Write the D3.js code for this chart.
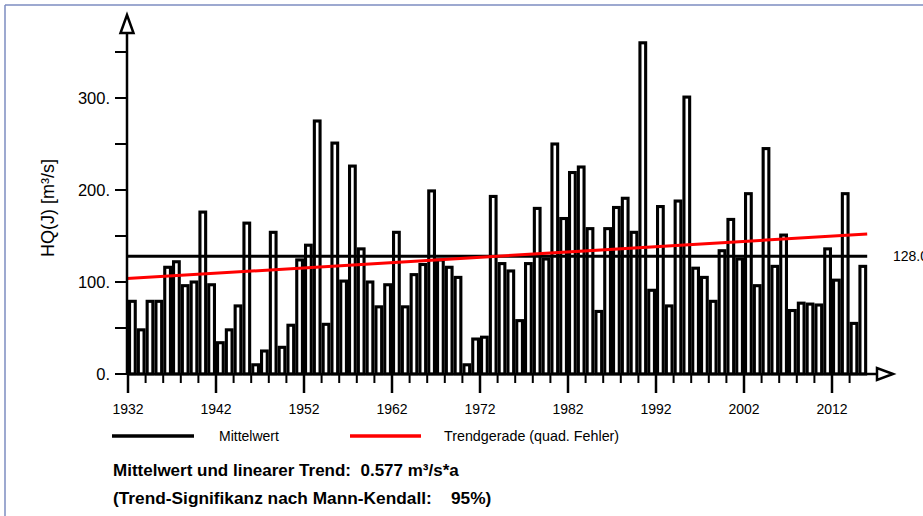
<!DOCTYPE html>
<html>
<head>
<meta charset="utf-8">
<script src="https://cdn.jsdelivr.net/npm/d3@7"></script>
<style>
  body { margin: 0; background: #fff; }
  svg { display: block; font-family: "Liberation Sans", Arial, sans-serif; }
  text { white-space: pre; }
</style>
</head>
<body>
<div id="chart"></div>
<script>
// annual peak discharge HQ(J), m³/s
const years = d3.range(1932, 2016);
const hq = [
  79, 48, 79, 79, 116, 122, 96, 100, 176, 97,
  34, 48, 74, 164, 10, 25, 154, 29, 53, 124,
  140, 275, 54, 251, 101, 226, 136, 100, 73, 97,
  154, 73, 108, 119, 199, 124, 116, 105, 10, 38,
  40, 193, 120, 112, 58, 120, 180, 125, 250, 169,
  219, 225, 158, 68, 158, 181, 191, 154, 360, 91,
  182, 74, 188, 301, 115, 105, 79, 134, 168, 125,
  196, 96, 245, 117, 151, 69, 77, 76, 75, 136,
  102, 196, 55, 117
];
const meanValue = 128.0;
const trendSlope = 0.577;
const yTickValues = [0, 100, 200, 300];
const xTickYears = [1932, 1942, 1952, 1962, 1972, 1982, 1992, 2002, 2012];

const W = 923, H = 516;
const svg = d3.select('#chart')
  .append('svg')
    .attr('width', W)
    .attr('height', H);

// frame lines (top and left)
svg.append('line')
  .attr('x1', 5).attr('y1', 5).attr('x2', W).attr('y2', 5)
  .attr('stroke', '#7d8cc0').attr('stroke-width', 1.5);
svg.append('line')
  .attr('x1', 5).attr('y1', 5).attr('x2', 5).attr('y2', H)
  .attr('stroke', '#7d8cc0').attr('stroke-width', 1.5);

const x = d3.scaleLinear().domain([1932, 2012]).range([128, 832]);
const y = d3.scaleLinear().domain([0, 300]).range([374, 98]);
const step = x(1933) - x(1932);
const x0 = 127, y0 = y(0);

// bars
const sw = 3.1;
svg.append('g')
  .selectAll('rect')
  .data(years.map((yr, i) => ({year: yr, v: hq[i]})))
  .join('rect')
    .attr('x', d => x(d.year) + sw / 2)
    .attr('y', d => y(d.v))
    .attr('width', step - sw)
    .attr('height', d => y0 - y(d.v))
    .attr('fill', '#fff')
    .attr('stroke', '#000')
    .attr('stroke-width', sw);

// mean line
const xEnd = x(2016);
svg.append('line')
  .attr('x1', x0).attr('x2', xEnd)
  .attr('y1', y(meanValue)).attr('y2', y(meanValue))
  .attr('stroke', '#000').attr('stroke-width', 3);
svg.append('text')
  .attr('x', 893).attr('y', y(meanValue) + 5)
  .attr('font-size', 14)
  .text(meanValue.toFixed(1));

// trend line through mean at the centre of the period
const midYear = 1974;
const trend = yr => meanValue + trendSlope * (yr - midYear);
svg.append('line')
  .attr('x1', x0).attr('y1', y(trend(1932)))
  .attr('x2', xEnd).attr('y2', y(trend(2016)))
  .attr('stroke', '#ff0000').attr('stroke-width', 3);

// y axis
svg.append('line')
  .attr('x1', x0).attr('x2', x0).attr('y1', 33).attr('y2', y0 + 1)
  .attr('stroke', '#000').attr('stroke-width', 2.5);
svg.append('path')
  .attr('d', `M${x0},15 L${x0 - 6.5},33 L${x0 + 6.5},33 Z`)
  .attr('fill', '#fff').attr('stroke', '#000').attr('stroke-width', 2.5);
svg.append('g')
  .selectAll('line')
  .data(d3.range(0, 351, 50))
  .join('line')
    .attr('x1', 115).attr('x2', x0)
    .attr('y1', d => y(d)).attr('y2', d => y(d))
    .attr('stroke', '#000').attr('stroke-width', 2);
svg.append('g')
  .selectAll('text')
  .data(yTickValues)
  .join('text')
    .attr('x', 110).attr('y', d => y(d) + 6)
    .attr('text-anchor', 'end')
    .attr('font-size', 16.5)
    .text(d => d + '.');
svg.append('text')
  .attr('transform', 'translate(54,208) rotate(-90)')
  .attr('text-anchor', 'middle')
  .attr('font-size', 18)
  .text('HQ(J) [m³/s]');

// x axis
svg.append('line')
  .attr('x1', x0).attr('x2', 877).attr('y1', y0).attr('y2', y0)
  .attr('stroke', '#000').attr('stroke-width', 2.5);
svg.append('path')
  .attr('d', `M893,${y0} L877,${y0 - 6} L877,${y0 + 6} Z`)
  .attr('fill', '#fff').attr('stroke', '#000').attr('stroke-width', 2.5);
svg.append('g')
  .selectAll('line')
  .data(d3.range(1932, 2016, 2))
  .join('line')
    .attr('x1', d => x(d)).attr('x2', d => x(d))
    .attr('y1', y0)
    .attr('y2', d => (d - 1932) % 10 === 0 ? y0 + 19 : y0 + 9)
    .attr('stroke', '#000')
    .attr('stroke-width', d => (d - 1932) % 10 === 0 ? 2.5 : 2);
svg.append('g')
  .selectAll('text')
  .data(xTickYears)
  .join('text')
    .attr('x', d => x(d)).attr('y', 414)
    .attr('text-anchor', 'middle')
    .attr('font-size', 14)
    .text(d => d);

// legend
svg.append('line')
  .attr('x1', 112).attr('x2', 194).attr('y1', 436).attr('y2', 436)
  .attr('stroke', '#000').attr('stroke-width', 3.5);
svg.append('text')
  .attr('x', 219).attr('y', 441)
  .attr('font-size', 14)
  .text('Mittelwert');
svg.append('line')
  .attr('x1', 350).attr('x2', 421).attr('y1', 436).attr('y2', 436)
  .attr('stroke', '#ff0000').attr('stroke-width', 3.5);
svg.append('text')
  .attr('x', 444).attr('y', 441)
  .attr('font-size', 14.3)
  .text('Trendgerade (quad. Fehler)');

// summary text
svg.append('text')
  .attr('x', 113).attr('y', 476)
  .attr('font-size', 17).attr('font-weight', 'bold')
  .text('Mittelwert und linearer Trend:  0.577 m³/s*a');
svg.append('text')
  .attr('x', 113).attr('y', 504)
  .attr('font-size', 17.3).attr('font-weight', 'bold')
  .text('(Trend-Signifikanz nach Mann-Kendall:    95%)');
</script>
</body>
</html>
